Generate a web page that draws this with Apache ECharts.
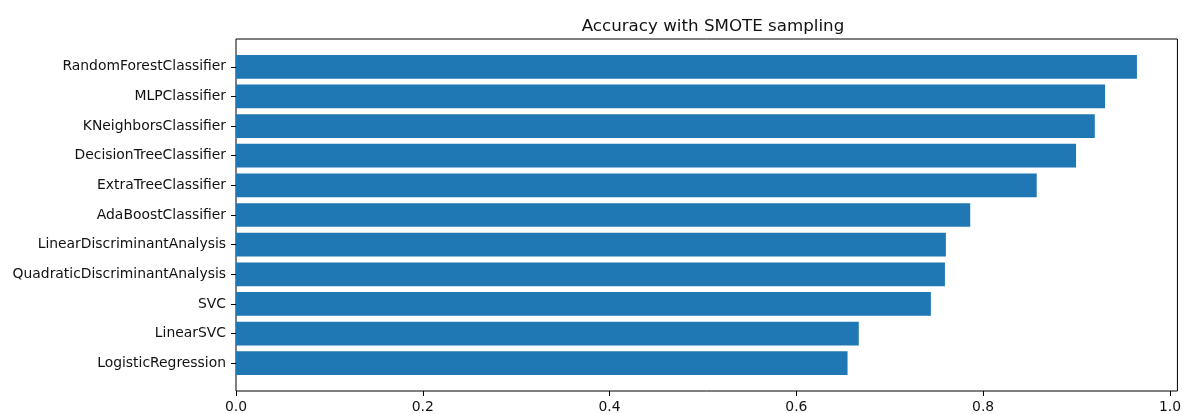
<!DOCTYPE html>
<html>
<head>
<meta charset="utf-8">
<script src="https://cdn.jsdelivr.net/npm/echarts@6/dist/echarts.min.js"></script>
<style>
  html, body { margin: 0; padding: 0; background: #fff; }
  #chart { width: 1184px; height: 414px; }
</style>
</head>
<body>
<div id="chart"></div>
<script type="text/javascript">
// models, top to bottom as in the picture
var models = [
  'RandomForestClassifier',
  'MLPClassifier',
  'KNeighborsClassifier',
  'DecisionTreeClassifier',
  'ExtraTreeClassifier',
  'AdaBoostClassifier',
  'LinearDiscriminantAnalysis',
  'QuadraticDiscriminantAnalysis',
  'SVC',
  'LinearSVC',
  'LogisticRegression'
];
var accuracy = [0.962, 0.928, 0.917, 0.897, 0.855, 0.784, 0.758, 0.757, 0.742, 0.665, 0.653];
var xTicks = [0, 0.2, 0.4, 0.6, 0.8, 1.0];

var font = 'DejaVu Sans';
var ink = '#111';
var xMax = 1.008;

var chart = echarts.init(document.getElementById('chart'));
var option = {
  backgroundColor: '#fff',
  animation: false,
  title: {
    text: 'Accuracy with SMOTE sampling',
    left: 708,
    textAlign: 'center',
    top: 13,
    textStyle: { fontFamily: font, fontSize: 16.7, fontWeight: 'normal', color: ink }
  },
  grid: [
    // frame + x axis
    { left: 236, right: 4, top: 39, bottom: 23, show: true, borderColor: '#000', borderWidth: 1, backgroundColor: 'transparent' },
    // category band area (matplotlib margins leave space above and below)
    { left: 236, right: 4, top: 52, bottom: 36 }
  ],
  xAxis: [
    {
      gridIndex: 0, type: 'value', min: 0, max: xMax,
      splitLine: { show: false },
      axisLine: { show: false },
      axisTick: { show: true, length: 5, lineStyle: { color: '#000' }, customValues: xTicks },
      axisLabel: {
        margin: 9, color: ink, fontFamily: font, fontSize: 13.9,
        customValues: xTicks,
        formatter: function (v) { return v.toFixed(1); }
      }
    },
    {
      gridIndex: 1, type: 'value', min: 0, max: xMax, show: false
    }
  ],
  yAxis: [
    { gridIndex: 0, type: 'value', show: false, min: 0, max: 1 },
    {
      gridIndex: 1, type: 'category', data: models, inverse: true,
      axisLine: { show: false },
      axisTick: { show: true, length: 5, alignWithLabel: true, lineStyle: { color: '#000' } },
      axisLabel: { margin: 10, color: ink, fontFamily: font, fontSize: 13.9 }
    }
  ],
  series: [
    {
      type: 'bar',
      xAxisIndex: 1,
      yAxisIndex: 1,
      data: accuracy,
      barWidth: '80%',
      itemStyle: { color: '#1f77b4' }
    }
  ]
};
chart.setOption(option);
</script>
</body>
</html>
